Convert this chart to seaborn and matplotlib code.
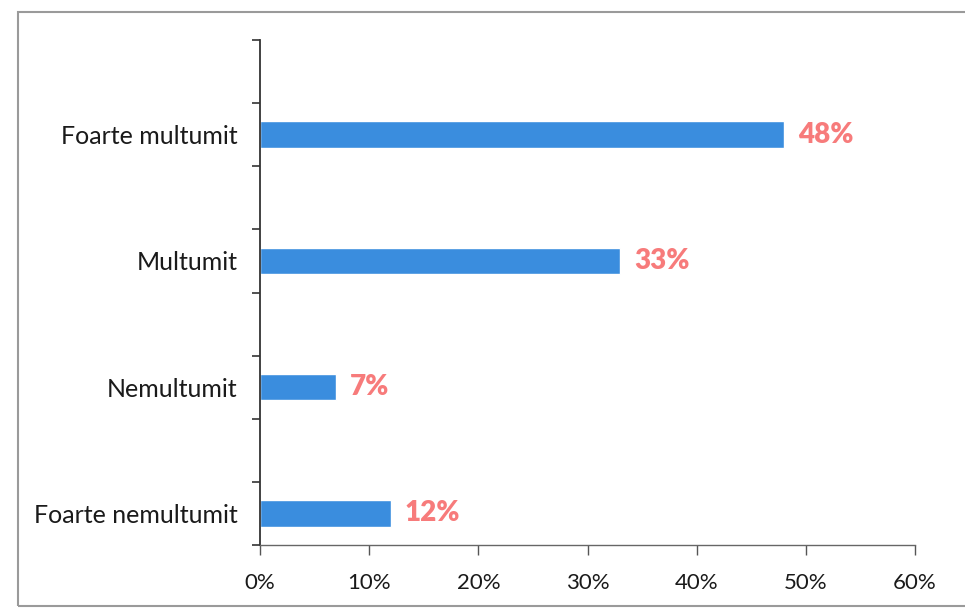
import matplotlib
matplotlib.use("Agg")
import matplotlib.pyplot as plt
import seaborn as sns
import pandas as pd
import numpy as np
from matplotlib.patches import Rectangle

categories = ["Foarte multumit", "Multumit", "Nemultumit", "Foarte nemultumit"]
values = [48, 33, 7, 12]
value_labels = ["48%", "33%", "7%", "12%"]
x_ticks = [0, 10, 20, 30, 40, 50, 60]
x_tick_labels = ["0%", "10%", "20%", "30%", "40%", "50%", "60%"]

sns.set_theme(style="white")
plt.rcParams['font.family'] = ['Lato', 'DejaVu Sans']

df = pd.DataFrame({"cat": categories, "val": values})

fig = plt.figure(figsize=(9.65, 6.14), dpi=100)
ax = fig.add_axes([260/965, 1-545/614, (915-260)/965, (545-40)/614])

sns.barplot(data=df, x="val", y="cat", order=categories, orient="h",
            color="#3A8DDE", saturation=1, width=0.21, ax=ax)

ax.set_xlim(0, 60)
ax.set_ylim(3.25, -0.75)
ax.set_xlabel("")
ax.set_ylabel("")

ax.set_xticks(x_ticks)
ax.set_xticklabels(x_tick_labels, fontsize=16, color="#1a1a1a")
ax.set_yticks(range(len(categories)))
ax.set_yticklabels(categories, fontsize=18, color="#1a1a1a")
ax.set_yticks(np.arange(-0.75, 3.26, 0.5), minor=True)
ax.tick_params(axis="y", which="major", length=0, pad=16)
ax.tick_params(axis="y", which="minor", length=6, width=1.2, color="#333333", direction="out", left=True)
ax.tick_params(axis="x", which="major", length=7, width=1.0, color="#555555", direction="out", bottom=True, pad=13)

for s in ["top", "right"]:
    ax.spines[s].set_visible(False)
for s in ["left", "bottom"]:
    ax.spines[s].set_visible(True)
    ax.spines[s].set_color("#333333")
ax.spines["left"].set_linewidth(1.3)
ax.spines["bottom"].set_linewidth(1.0)
ax.spines["bottom"].set_color("#666666")

for i, (v, lab) in enumerate(zip(values, value_labels)):
    ax.annotate(lab, xy=(v, i), xytext=(10, 0), textcoords="offset points",
                ha="left", va="center", fontsize=20, fontweight="heavy", color="#F77B7B")

fig.patches.append(Rectangle((18/965, 1-606/614), 1.0, (606-12)/614,
                             transform=fig.transFigure, fill=False,
                             edgecolor="#9a9a9a", linewidth=1.5))

fig.savefig("out.png", dpi=100, facecolor="white")
